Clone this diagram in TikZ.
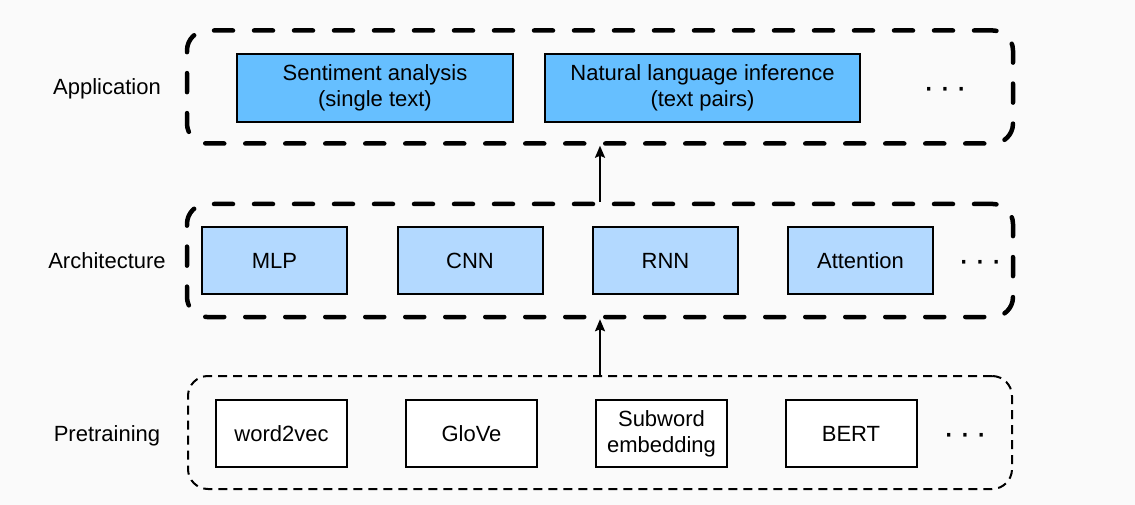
\documentclass[tikz,border=0pt]{standalone}
\usepackage{fontspec}
\setmainfont{Liberation Sans}
\usetikzlibrary{arrows.meta,positioning}
\definecolor{appblue}{RGB}{102,191,255}
\definecolor{archblue}{RGB}{179,217,255}
\definecolor{bggray}{RGB}{250,250,250}
\newcommand{\moredots}{{\fontsize{34}{34}\selectfont ·\hspace{5pt}·\hspace{5pt}·}}

\begin{document}
\begin{tikzpicture}[->, >={Stealth[length=12pt,width=10pt,inset=2pt]}, x=1pt, y=-1pt,
    font=\fontsize{22}{26}\selectfont,
    layer/.style={draw, rounded corners=20pt, minimum width=826pt, minimum height=113pt, inner sep=0pt},
    thicklayer/.style={layer, line width=4.5pt, line cap=round, dash pattern=on 19pt off 21pt},
    thinlayer/.style={layer, line width=2pt, dash pattern=on 9pt off 6pt},
    appbox/.style={draw, line width=2pt, fill=appblue, align=center, minimum height=68pt, inner sep=0pt},
    archbox/.style={draw, line width=2pt, fill=archblue, minimum width=145pt, minimum height=67pt, inner sep=0pt},
    prebox/.style={draw, line width=2pt, fill=white, align=center, minimum width=131pt, minimum height=67pt, inner sep=0pt},
    level/.style={anchor=base},
    more/.style={inner sep=0pt}]
  \fill[bggray] (0,0) rectangle (1135,505);
  \useasboundingbox (0,0) rectangle (1135,505);

  % levels
  \node[level] (applabel) at (107, 95) {Application};
  \node[level] (archlabel) at (107, 268) {Architecture};
  \node[level] (prelabel) at (107, 441) {Pretraining};

  \node[thicklayer] (application) at (600, 87) {};
  \node[thicklayer] (architecture) at (600, 260.5) {};
  \node[thinlayer, minimum width=824pt] (pretraining) at (600, 432.5) {};

  % application
  \node[appbox, minimum width=276pt] (sentiment) at (375, 88) {Sentiment analysis\\(single text)};
  \node[appbox, minimum width=315pt] (nli) at (702.5, 88) {Natural language inference\\(text pairs)};
  \node[more] (appdots) at (945, 93) {\moredots};

  % architecture
  \node[archbox] (mlp) at (274.5, 260.5) {MLP};
  \node[archbox] (cnn) at (470, 260.5) {CNN};
  \node[archbox] (rnn) at (665.5, 260.5) {RNN};
  \node[archbox] (attention) at (860.5, 260.5) {Attention};
  \node[more] (archdots) at (980, 266) {\moredots};

  % pretraining
  \node[prebox] (wordvec) at (281.5, 433.5) {word2vec};
  \node[prebox] (glove) at (471.5, 433.5) {GloVe};
  \node[prebox] (subword) at (661.5, 433.5) {Subword\\embedding};
  \node[prebox] (bert) at (851, 433.5) {BERT};
  \node[more] (predots) at (965, 439) {\moredots};

  \path[line width=2pt]
  (architecture) edge (application)
  (pretraining) edge (architecture);
\end{tikzpicture}
\end{document}
